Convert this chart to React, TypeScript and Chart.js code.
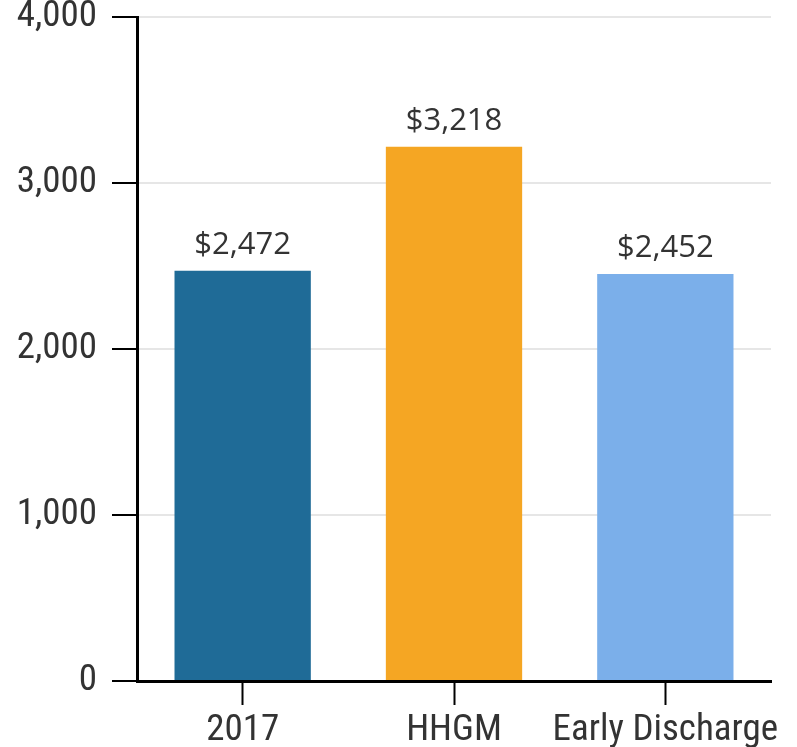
import React, { useEffect, useRef } from "react";
import { Chart, registerables } from "chart.js";

Chart.register(...registerables);

const categories = ["2017", "HHGM", "Early Discharge"];
const values = [2472, 3218, 2452];
const barColors = ["#1f6b97", "#f5a623", "#7bafea"];
const yTicks = [0, 1000, 2000, 3000, 4000];

const TICK_FONT = "'Roboto Condensed', 'Liberation Sans Narrow', Roboto, sans-serif";
const LABEL_FONT = "'Open Sans', 'Noto Sans', sans-serif";

const valueLabels = {
  id: "valueLabels",
  afterDatasetsDraw(chart: any) {
    const ctx = chart.ctx;
    const meta = chart.getDatasetMeta(0);
    ctx.save();
    ctx.font = `normal 31px ${LABEL_FONT}`;
    ctx.fillStyle = "#333333";
    ctx.textAlign = "center";
    ctx.textBaseline = "alphabetic";
    meta.data.forEach((bar: any, i: number) => {
      const v = values[i];
      ctx.fillText("$" + v.toLocaleString("en-US"), bar.x, bar.y - 17);
    });
    ctx.restore();
  },
};

export default function App() {
  const ref = useRef<HTMLCanvasElement | null>(null);
  useEffect(() => {
    if (!ref.current) return;
    const chart = new Chart(ref.current, {
      type: "bar",
      data: {
        labels: categories,
        datasets: [
          {
            data: values,
            backgroundColor: barColors,
            barPercentage: 0.645,
            categoryPercentage: 1,
          },
        ],
      },
      options: {
        animation: false,
        responsive: false,
        maintainAspectRatio: false,
        layout: { padding: { top: 17, right: 26, left: 0, bottom: 0 } },
        plugins: {
          legend: { display: false },
          tooltip: { enabled: false },
        },
        scales: {
          x: {
            grid: {
              display: true,
              offset: false,
              drawOnChartArea: false,
              drawTicks: true,
              tickLength: 24,
              tickColor: "#000000",
              tickWidth: 2,
            },
            border: { display: true, color: "#000000", width: 3 },
            ticks: {
              color: "#333333",
              padding: 4,
              font: { family: TICK_FONT, size: 37 },
              maxRotation: 0,
              autoSkip: false,
            },
            afterFit(scale: any) {
              scale.height = 66;
              scale.paddingLeft = 0;
              scale.paddingRight = 0;
            },
          },
          y: {
            min: 0,
            max: 4000,
            afterBuildTicks(scale: any) {
              scale.ticks = yTicks.map((v) => ({ value: v }));
            },
            grid: {
              color: "#e6e6e6",
              lineWidth: 2,
              drawTicks: true,
              tickLength: 25,
              tickColor: "#000000",
              tickWidth: 2,
            },
            border: { display: true, color: "#000000", width: 3 },
            ticks: {
              color: "#333333",
              padding: 15,
              font: { family: TICK_FONT, size: 37 },
              callback: (v: any) => Number(v).toLocaleString("en-US"),
            },
            afterFit(scale: any) {
              scale.width = 137;
              scale.paddingTop = 0;
              scale.paddingBottom = 0;
            },
          },
        },
      },
      plugins: [valueLabels],
    });
    return () => chart.destroy();
  }, []);
  return (
    <div style={{ position: "fixed", left: 0, top: 0, width: 797, height: 747 }}>
      <canvas ref={ref} width={797} height={747} style={{ width: 797, height: 747 }} />
    </div>
  );
}
